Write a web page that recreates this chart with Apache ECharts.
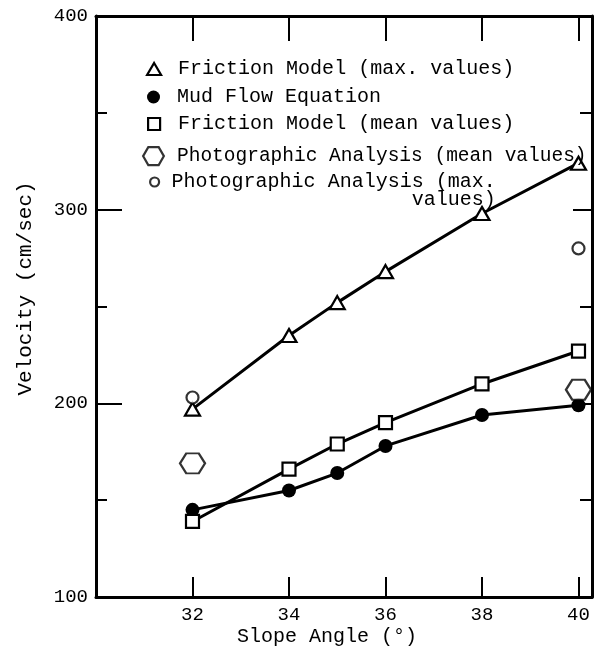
<!DOCTYPE html>
<html>
<head>
<meta charset="utf-8">
<script src="https://cdn.jsdelivr.net/npm/echarts@6/dist/echarts.min.js"></script>
<style>
  html, body { margin: 0; padding: 0; background: #fff; }
  #chart { width: 594px; height: 647px; }
</style>
</head>
<body>
<div id="chart"></div>
<script>
// data
const angles = [32, 34, 35, 36, 38, 40];
const frictionMax = [197, 235, 252, 268, 298, 324];
const mudFlow = [145, 155, 164, 178, 194, 199];
const frictionMean = [139, 166, 179, 190, 210, 227];
const photoAngles = [32, 40];
const photoMean = [169, 207];
const photoMax = [203, 280];
const xTicks = [32, 34, 36, 38, 40];

const FONT = '"Liberation Mono", "DejaVu Sans Mono", monospace';
const HEX = 'path://M-1,0 L-0.5,-0.866 L0.5,-0.866 L1,0 L0.5,0.866 L-0.5,0.866 Z';
const openStyle = { color: '#fff', borderColor: '#000', borderWidth: 2.2 };

function pairs(xs, ys) {
  return xs.map((x, i) => [x, ys[i]]);
}

const chart = echarts.init(document.getElementById('chart'));

function legendRow(name, icon, left, top, w, h, pad, style, size, fmt) {
  return {
    data: [{ name: name, icon: icon, itemStyle: style }],
    left: left,
    top: top,
    itemWidth: w,
    itemHeight: h,
    selectedMode: false,
    formatter: fmt || '{name}',
    textStyle: {
      fontFamily: FONT,
      fontSize: size,
      color: '#000',
      lineHeight: 18,
      padding: [0, 0, 0, pad]
    }
  };
}

const option = {
  backgroundColor: '#fff',
  animation: false,
  grid: { left: 96, right: 2, top: 16, bottom: 50, outerBoundsMode: 'none' },
  legend: [
    legendRow('Friction Model (max. values)', 'triangle', 141, 54, 14, 12, 12, openStyle, 20),
    legendRow('Mud Flow Equation', 'circle', 142, 82, 13, 13, 12, { color: '#000' }, 20),
    legendRow('Friction Model (mean values)', 'rect', 142, 109, 12, 12, 13, openStyle, 20),
    legendRow('Photographic Analysis (mean values)', HEX, 137, 141, 25, 18, 6, openStyle, 19.5),
    legendRow('Photographic Analysis (max. values)', 'circle', 144, 149, 12, 9, 6, openStyle, 20,
      () => '\nPhotographic Analysis (max.\n' + ' '.repeat(20) + 'values)')
  ],
  xAxis: [
    {
      type: 'value',
      min: 30,
      max: 40.28,
      interval: 2,
      name: 'Slope Angle (°)',
      nameLocation: 'middle',
      nameGap: 30,
      nameMoveOverlap: false,
      nameTextStyle: { fontFamily: FONT, fontSize: 20, color: '#000', padding: [0, 34, 0, 0] },
      axisLine: { lineStyle: { color: '#000', width: 3 } },
      axisTick: { inside: true, length: 20, customValues: xTicks, lineStyle: { color: '#000', width: 2 } },
      axisLabel: { customValues: xTicks, fontFamily: FONT, fontSize: 19, color: '#000', margin: 8 },
      splitLine: { show: false }
    },
    {
      type: 'value',
      position: 'top',
      min: 30,
      max: 40.28,
      interval: 2,
      axisLine: { lineStyle: { color: '#000', width: 3 } },
      axisTick: { inside: true, length: 25, customValues: xTicks, lineStyle: { color: '#000', width: 2 } },
      axisLabel: { show: false },
      splitLine: { show: false }
    }
  ],
  yAxis: [
    {
      type: 'value',
      min: 100,
      max: 400,
      interval: 100,
      name: 'Velocity (cm/sec)',
      nameLocation: 'middle',
      nameGap: 60,
      nameTextStyle: { fontFamily: FONT, fontSize: 21, color: '#000', padding: [0, 0, 0, 36] },
      axisLine: { lineStyle: { color: '#000', width: 3 } },
      axisTick: { inside: true, length: 26, lineStyle: { color: '#000', width: 2 } },
      minorTick: { show: true, splitNumber: 2, length: 11, lineStyle: { color: '#000', width: 2 } },
      axisLabel: { fontFamily: FONT, fontSize: 19, color: '#000', margin: 8 },
      splitLine: { show: false }
    },
    {
      type: 'value',
      position: 'right',
      min: 100,
      max: 400,
      interval: 100,
      axisLine: { lineStyle: { color: '#000', width: 3 } },
      axisTick: { inside: true, length: 19, lineStyle: { color: '#000', width: 2 } },
      minorTick: { show: true, splitNumber: 2, length: 12, lineStyle: { color: '#000', width: 2 } },
      axisLabel: { show: false },
      splitLine: { show: false }
    }
  ],
  series: [
    {
      name: 'Friction Model (max. values)',
      type: 'line',
      data: pairs(angles, frictionMax),
      symbol: 'triangle',
      symbolSize: [15, 13],
      lineStyle: { color: '#000', width: 3 },
      itemStyle: openStyle,
      z: 3
    },
    {
      name: 'Mud Flow Equation',
      type: 'line',
      data: pairs(angles, mudFlow),
      symbol: 'circle',
      symbolSize: 14,
      lineStyle: { color: '#000', width: 3 },
      itemStyle: { color: '#000' },
      z: 3
    },
    {
      name: 'Friction Model (mean values)',
      type: 'line',
      data: pairs(angles, frictionMean),
      symbol: 'rect',
      symbolSize: 13,
      lineStyle: { color: '#000', width: 3 },
      itemStyle: openStyle,
      z: 4
    },
    {
      name: 'Photographic Analysis (mean values)',
      type: 'scatter',
      data: pairs(photoAngles, photoMean),
      symbol: HEX,
      symbolSize: [25, 20],
      symbolKeepAspect: false,
      itemStyle: openStyle,
      z: 5
    },
    {
      name: 'Photographic Analysis (max. values)',
      type: 'scatter',
      data: pairs(photoAngles, photoMax),
      symbol: 'circle',
      symbolSize: 12,
      itemStyle: openStyle,
      z: 5
    }
  ]
};

chart.setOption(option);
</script>
</body>
</html>
